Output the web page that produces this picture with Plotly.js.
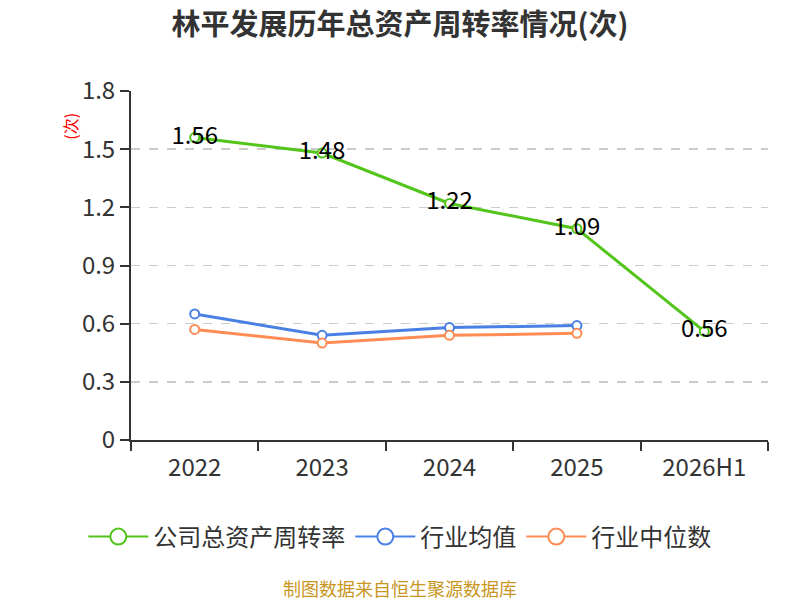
<!DOCTYPE html>
<html><head><meta charset="utf-8">
<script src="https://cdn.plot.ly/plotly-3.0.1.min.js"></script>
<style>body{margin:0;padding:0;background:#fff}#chart{width:800px;height:600px}</style>
</head><body><div id="chart"></div>
<script>
const categories = ["2022", "2023", "2024", "2025", "2026H1"];
const companyTurnover = [1.56, 1.48, 1.22, 1.09, 0.56];
const industryMean = [0.65, 0.54, 0.58, 0.59];
const industryMedian = [0.57, 0.50, 0.54, 0.55];
const seriesNames = ['公司总资产周转率', '行业均值', '行业中位数'];
const seriesColors = ['#52c41a', '#4a80e3', '#ff8c55'];
const yTicks = [0, 0.3, 0.6, 0.9, 1.2, 1.5, 1.8];
const yTickLabels = ["0", "0.3", "0.6", "0.9", "1.2", "1.5", "1.8"];

const font = "'Noto Sans CJK SC', 'Noto Sans', sans-serif";
const markerStyle = (c, s) => ({symbol: 'circle', size: s, color: '#ffffff', line: {color: c, width: 2}});

const traces = [
  {x: categories, y: companyTurnover, name: seriesNames[0], type: 'scatter', mode: 'lines+markers+text', showlegend: false,
   line: {color: seriesColors[0], width: 3}, marker: markerStyle(seriesColors[0], 9),
   text: companyTurnover.map(v => v.toFixed(2)), textposition: 'middle center',
   textfont: {size: 24, color: '#000000', family: font}, cliponaxis: false},
  {x: categories.slice(0, 4), y: industryMean, name: seriesNames[1], type: 'scatter', mode: 'lines+markers', showlegend: false,
   line: {color: seriesColors[1], width: 3}, marker: markerStyle(seriesColors[1], 9)},
  {x: categories.slice(0, 4), y: industryMedian, name: seriesNames[2], type: 'scatter', mode: 'lines+markers', showlegend: false,
   line: {color: seriesColors[2], width: 3}, marker: markerStyle(seriesColors[2], 9)}
];
// legend-only entries (larger legend symbols)
seriesNames.forEach((n, i) => traces.push({
  x: [categories[0]], y: [null], name: n, type: 'scatter', mode: 'lines+markers', showlegend: true,
  line: {color: seriesColors[i], width: 2}, marker: markerStyle(seriesColors[i], 16), hoverinfo: 'skip'
}));

const layout = {
  width: 800, height: 600,
  margin: {l: 131, r: 32, t: 91, b: 160},
  paper_bgcolor: '#ffffff', plot_bgcolor: '#ffffff',
  font: {family: font, color: '#333333'},
  title: {text: '<b>林平发展历年总资产周转率情况(次)</b>', x: 0.5, xanchor: 'center', y: 0.958, yanchor: 'middle',
          font: {size: 29, color: '#333333', family: font}},
  showlegend: true,
  legend: {orientation: 'h', x: 0.422, xanchor: 'center', y: -0.278, yanchor: 'middle',
           font: {size: 24, color: '#333333', family: font}, itemwidth: 60, traceorder: 'normal'},
  xaxis: {type: 'category', tickson: 'boundaries', ticks: 'outside', ticklen: 9, tickwidth: 2, tickcolor: '#333333',
          showline: true, linecolor: '#333333', linewidth: 2, showgrid: false, ticklabelstandoff: 5,
          tickfont: {size: 24, color: '#333333', family: font}, range: [-0.5, 4.5]},
  yaxis: {range: [0, 1.8], tickvals: yTicks, ticktext: yTickLabels, ticks: 'outside', ticklen: 9, tickwidth: 2,
          tickcolor: '#333333', showline: true, linecolor: '#333333', linewidth: 2,
          showgrid: true, gridcolor: '#cccccc', griddash: 'dash', gridwidth: 1.5, zeroline: false,
          tickfont: {size: 24, color: '#333333', family: font}},
  annotations: [
    {text: '(次)', xref: 'paper', yref: 'paper', x: -0.096, y: 0.9, xanchor: 'center', yanchor: 'middle',
     textangle: -90, showarrow: false, font: {size: 16, color: '#ff0000', family: font}},
    {text: '制图数据来自恒生聚源数据库', xref: 'paper', yref: 'paper', x: 0.422, y: -0.424, showarrow: false,
     xanchor: 'center', yanchor: 'middle', font: {size: 18, color: '#c8961e', family: font}}
  ]
};
Plotly.newPlot('chart', traces, layout, {displayModeBar: false, staticPlot: true});
</script></body></html>
